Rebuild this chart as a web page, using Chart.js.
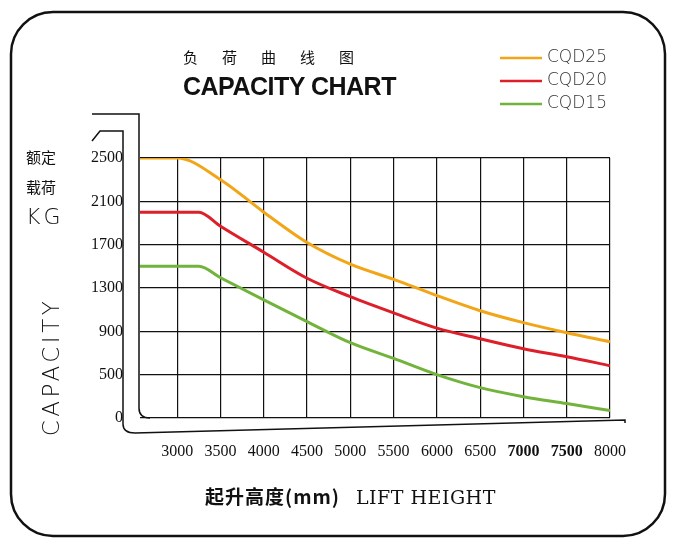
<!DOCTYPE html>
<html><head><meta charset="utf-8">
<script src="https://cdn.jsdelivr.net/npm/chart.js@4"></script>
<style>
body{margin:0;background:#fff;}
#wrap{position:relative;width:676px;height:548px;}
canvas{position:absolute;left:0;top:0;}
.t{position:absolute;color:#111;white-space:nowrap;}
</style></head><body>
<div id="wrap">
<canvas id="c" width="676" height="548"></canvas>
<div class="t" style="left:183px;top:46px;font:15px 'Noto Sans CJK SC';letter-spacing:24px;">负荷曲线图</div>
<div class="t" style="left:183px;top:72px;font:bold 25px 'Liberation Sans';letter-spacing:-0.5px;">CAPACITY CHART</div>
<div class="t" style="left:26px;top:146px;font:15px 'Noto Sans CJK SC';">额定</div>
<div class="t" style="left:26px;top:176px;font:15px 'Noto Sans CJK SC';">载荷</div>
<div class="t" style="left:26px;top:204px;font:22px 'DejaVu Sans';font-weight:200;letter-spacing:3px;">KG</div>
<div class="t" style="left:-18px;top:354px;font:23px 'DejaVu Sans';font-weight:200;letter-spacing:3.5px;transform:rotate(-90deg);">CAPACITY</div>
<div class="t" style="left:205px;top:482px;font:bold 19px 'Noto Sans CJK SC','DejaVu Serif';letter-spacing:1px;">起升高度(mm)&nbsp;&nbsp;&nbsp;<span style="font:19px 'DejaVu Serif';font-weight:normal;letter-spacing:0.5px;">LIFT HEIGHT</span></div>
</div>
<script>
const xTicks=[3000,3500,4000,4500,5000,5500,6000,6500,7000,7500,8000];
const yTicks=[100,300,500,700,900,1100,1300,1500,1700,1900,2100,2300,2500];
const seriesNames=['CQD25','CQD20','CQD15'];
const seriesColors=['#f2a516','#dd1f2a','#72b33c'];
const cqd25=[[2570,2500],[3000,2500],[3500,2300],[4000,2000],[4500,1720],[5000,1520],[5500,1380],[6000,1230],[6500,1090],[7000,980],[7500,887],[8000,804]];
const cqd20=[[2570,2000],[3250,2000],[3500,1870],[4000,1630],[4500,1390],[5000,1220],[5500,1070],[6000,930],[6500,832],[7000,740],[7500,666],[8000,583]];
const cqd15=[[2570,1500],[3250,1500],[3500,1395],[4000,1190],[4500,990],[5000,795],[5500,650],[6000,500],[6500,380],[7000,297],[7500,233],[8000,168]];
const data=[cqd25,cqd20,cqd15];

const deco={id:'deco',afterDraw(ch){
  const c=ch.ctx;c.save();c.strokeStyle='#111';
  c.lineWidth=2.5;c.beginPath();c.roundRect(11,12,654,524,42);c.stroke();
  c.lineWidth=1.5;
  const a=ch.chartArea;
  c.beginPath();c.moveTo(92,114);c.lineTo(a.left-1,114);c.lineTo(a.left-1,a.bottom-10);
  c.quadraticCurveTo(a.left-1,a.bottom,a.left+10,a.bottom);c.stroke();
  c.beginPath();c.moveTo(92,141);c.lineTo(100,131);c.lineTo(123,131);c.lineTo(123,a.bottom+6);
  c.quadraticCurveTo(123,a.bottom+15,135,a.bottom+15);c.lineTo(a.right+15,a.bottom+2);c.lineTo(a.right+15,a.bottom+5);c.stroke();
  seriesNames.forEach((n,i)=>{const y=58+i*23;c.strokeStyle=seriesColors[i];c.lineWidth=2.5;
    c.beginPath();c.moveTo(500,y);c.lineTo(542,y);c.stroke();
    c.fillStyle='#333';c.font="300 17px 'DejaVu Sans'";c.textBaseline='middle';c.fillText(n,547,y);});
  c.restore();
}};

new Chart(document.getElementById('c'),{
  type:'line',
  data:{datasets:data.map((d,i)=>({label:seriesNames[i],data:d.map(p=>({x:p[0],y:p[1]})),borderColor:seriesColors[i],borderWidth:3,pointRadius:0,cubicInterpolationMode:'monotone',fill:false}))},
  options:{responsive:false,animation:false,
    layout:{padding:{left:70,top:158,right:66,bottom:70}},
    plugins:{legend:{display:false},tooltip:{enabled:false}},
    scales:{
      x:{type:'linear',min:2570,max:8000,
        afterBuildTicks:s=>{s.ticks=xTicks.map(v=>({value:v}));},
        afterFit:s=>{s.height=60;},
        grid:{color:'#111',lineWidth:1.2,drawTicks:false},border:{display:false},
        ticks:{padding:24,color:'#111',font:c=>({family:'Liberation Serif',size:16,weight:(c.tick&&(c.tick.value===7000||c.tick.value===7500))?'bold':'normal'}),callback:v=>String(v)}},
      y:{type:'linear',min:100,max:2500,
        afterBuildTicks:s=>{s.ticks=yTicks.map(v=>({value:v}));},
        afterFit:s=>{s.width=70;},
        grid:{color:'#111',lineWidth:1.2,drawTicks:false},border:{display:false},
        ticks:{padding:17,color:'#111',font:{family:'Liberation Serif',size:16},callback:v=>v===100?'0':String(v)}}
    }},
  plugins:[deco]
});
</script></body></html>
